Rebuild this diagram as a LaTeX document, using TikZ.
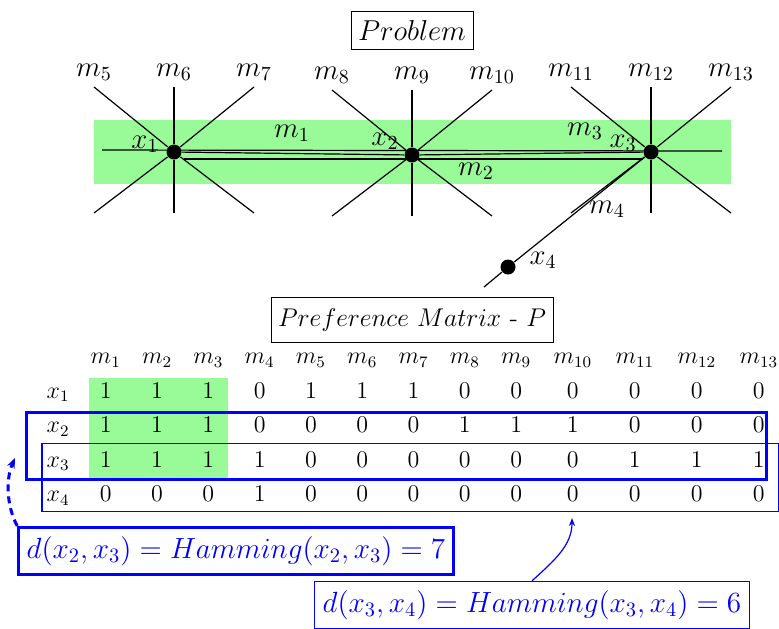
\documentclass[tikz,border=0pt]{standalone}
\usepackage{fix-cm}
\usepackage{amsmath}
\usetikzlibrary{arrows.meta,positioning,matrix,fit,calc,backgrounds}
\definecolor{fitgreen}{RGB}{152,251,152}
\definecolor{hamblue}{RGB}{0,0,255}
\tikzset{
  pnt/.style={circle,fill=black,inner sep=0pt,minimum size=7.5pt},
  lab/.style={font=\Large,inner sep=1pt},
  titlebox/.style={draw,thin,inner xsep=3.5pt},
  hamming/.style={draw=hamblue,text=hamblue,font=\fontsize{14.6}{17}\selectfont,inner xsep=4pt,inner ysep=4.5pt},
}
\begin{document}
\begin{tikzpicture}[x=0.5pt,y=-0.5pt,semithick]
  \useasboundingbox (0,0) rectangle (779,628);
  \fill[fitgreen] (94,120) rectangle (731,184);

  \node[titlebox,inner ysep=4.5pt,font=\Large] (problem) at (412,30) {$Problem$};

  \node[pnt] (x1) at (174,152) {};
  \node[pnt] (x2) at (412,155) {};
  \node[pnt] (x3) at (651,152) {};
  \node[pnt] (x4) at (508,267) {};

  % stars of models through x1, x2, x3
  \foreach \p/\i/\j/\k in {x1/5/6/7,x2/8/9/10,x3/11/12/13}{
    \coordinate (t\i) at ($(\p)+(-80,-65)$);
    \coordinate (t\j) at ($(\p)+(0,-65)$);
    \coordinate (t\k) at ($(\p)+(80,-65)$);
    \coordinate (b\i) at ($(\p)+(80,61)$);
    \coordinate (b\j) at ($(\p)+(0,61)$);
    \coordinate (b\k) at ($(\p)+(-80,61)$);
    \foreach \m in {\i,\j,\k}{
      \draw (t\m) -- (\p) -- (b\m);
      \node[lab,above=2pt of t\m] (m\m) {$m_{\m}$};
    }
  }

  % lines shared by the inliers
  \coordinate (hl) at (102,150);
  \coordinate (hr) at (722,151);
  \draw (hl) -- (hr);
  \draw (x1) -- (x2) -- (x3);
  \coordinate (m2l) at (184,159);
  \coordinate (m2r) at (643,159);
  \draw (m2l) -- (m2r);
  \coordinate (m4e) at (484,287);
  \draw (x3) -- (x4) -- (m4e);

  \node[lab] (lx1) at (145,144) {$x_1$};
  \node[lab] (lx2) at (385,141) {$x_2$};
  \node[lab] (lx3) at (623,143) {$x_3$};
  \node[lab] (lx4) at (543,260) {$x_4$};
  \node[lab] (lm1) at (292,133) {$m_1$};
  \node[lab] (lm2) at (476,171) {$m_2$};
  \node[lab] (lm3) at (585,131) {$m_3$};
  \node[lab] (lm4) at (607,209) {$m_4$};

  \node[titlebox,inner ysep=5.5pt,font=\fontsize{12.8}{15}\selectfont] (pref) at (412,320) {$Preference\ Matrix$ - $P$};

  \matrix (P) [matrix of math nodes, anchor=west, inner sep=0pt, column sep=0pt, row sep=0pt,
    nodes={font=\fontsize{12}{14}\selectfont, inner sep=0pt, minimum width=25.65pt,
      text height=8pt, text depth=2.5pt, minimum height=17.25pt, anchor=center},
    column 1/.style={nodes={minimum width=22pt}},
    column 11/.style={nodes={minimum width=31pt}},
    column 12/.style={nodes={minimum width=31pt}},
    column 13/.style={nodes={minimum width=31pt}},
    column 14/.style={nodes={minimum width=31pt}}]
    at (35.5,427) {
        & m_1 & m_2 & m_3 & m_4 & m_5 & m_6 & m_7 & m_8 & m_9 & m_{10} & m_{11} & m_{12} & m_{13} \\
    x_1 & 1 & 1 & 1 & 0 & 1 & 1 & 1 & 0 & 0 & 0 & 0 & 0 & 0 \\
    x_2 & 1 & 1 & 1 & 0 & 0 & 0 & 0 & 1 & 1 & 1 & 0 & 0 & 0 \\
    x_3 & 1 & 1 & 1 & 1 & 0 & 0 & 0 & 0 & 0 & 0 & 1 & 1 & 1 \\
    x_4 & 0 & 0 & 0 & 1 & 0 & 0 & 0 & 0 & 0 & 0 & 0 & 0 & 0 \\
  };

  \coordinate (g1) at ($(P-2-2.north)+(-17,3)$);
  \coordinate (g2) at ($(P-4-4.south)+(20,0)$);
  \begin{scope}[on background layer]
    \node[fill=fitgreen, inner sep=0pt, fit=(g1)(g2)] (ones) {};
  \end{scope}

  \coordinate (c34a) at ($(P-4-1.north west)+(6.5,0)$);
  \coordinate (c34b) at ($(P-5-14.south)+(20,-2)$);
  \node[draw=hamblue, inner sep=0pt, fit=(c34a)(c34b)] (rows34) {};
  \coordinate (c23a) at ($(P-3-1.north west)+(-9.5,3)$);
  \coordinate (c23b) at ($(P-4-14.south)+(8,0)$);
  \node[draw=hamblue, line width=1.5pt, inner sep=0pt, fit=(c23a)(c23b)] (rows23) {};

  \node[hamming, line width=1.5pt] (h23) at (236,551) {$d(x_2,x_3) = Hamming(x_2,x_3) = 7$};
  \node[hamming] (h34) at (532,605) {$d(x_3,x_4) = Hamming(x_3,x_4) = 6$};

  \coordinate (t34) at (572,518);
  \draw[hamblue, -{Stealth[length=4pt,width=3pt]}] (h34.north) .. controls (555,560) and (572,545) .. (t34);
  \coordinate (t23) at (15,458);
  \draw[hamblue, line width=1.5pt, dash pattern=on 3.5pt off 2.5pt, -{Stealth[length=5pt,width=4pt]}]
    (h23.north west) .. controls (6,505) and (6,478) .. (t23);
\end{tikzpicture}
\end{document}
